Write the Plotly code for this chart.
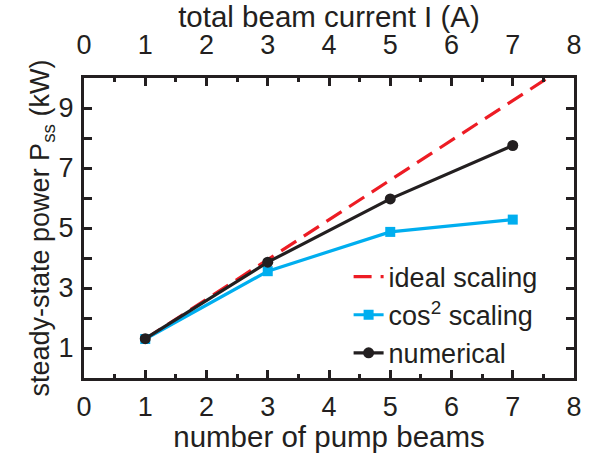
import plotly.graph_objects as go

# ---- data ----
pump_beams = [1, 3, 5, 7]
ideal_x = [1, 3, 5, 7, 8]
ideal_y = [1.3, 3.95, 6.6, 9.25, 10.57]
cos2_y = [1.3, 3.56, 4.87, 5.28]
numerical_y = [1.31, 3.86, 5.97, 7.75]

x_major = [0, 1, 2, 3, 4, 5, 6, 7, 8]
x_minor = [0.5, 1.5, 2.5, 3.5, 4.5, 5.5, 6.5, 7.5]
y_major = [1, 3, 5, 7, 9]
y_minor = [2, 4, 6, 8]

RED = "#ED1C24"
BLUE = "#00AEEF"
BLACK = "#231F20"
FONT = "Liberation Sans, Arial, sans-serif"

fig = go.Figure()
fig.add_trace(go.Scatter(x=ideal_x, y=ideal_y, mode="lines", name="ideal scaling",
                         line=dict(color=RED, width=3.2, dash="18px,9px")))
fig.add_trace(go.Scatter(x=pump_beams, y=cos2_y, mode="lines+markers",
                         name="cos<sup>2</sup> scaling",
                         line=dict(color=BLUE, width=3.2),
                         marker=dict(symbol="square", size=10, color=BLUE)))
fig.add_trace(go.Scatter(x=pump_beams, y=numerical_y, mode="lines+markers",
                         name="numerical",
                         line=dict(color=BLACK, width=3.2),
                         marker=dict(symbol="circle", size=11, color=BLACK)))
# invisible trace to activate the top axis
fig.add_trace(go.Scatter(x=pump_beams, y=numerical_y, xaxis="x2", mode="lines",
                         line=dict(width=0), opacity=0, showlegend=False,
                         hoverinfo="skip"))

axis_common = dict(
    showgrid=False, zeroline=False, showline=True, linecolor=BLACK, linewidth=3,
    ticks="inside", ticklen=8, tickwidth=2.5, tickcolor=BLACK,
    tickfont=dict(family=FONT, size=27, color="#231F20"),
)
minor_common = dict(tickmode="array", ticks="inside", ticklen=4, tickwidth=2.5,
                    tickcolor=BLACK)

fig.update_layout(
    width=590, height=453,
    margin=dict(l=84, r=8, t=76, b=71),
    plot_bgcolor="white", paper_bgcolor="white",
    font=dict(family=FONT, size=27, color="#231F20"),
    xaxis=dict(range=[0, 8], tickmode="array", tickvals=x_major,
               minor=dict(tickvals=x_minor, **minor_common),
               title=dict(text="number of pump beams",
                          font=dict(family=FONT, size=29.5), standoff=2),
               ticklabelstandoff=3,
               **axis_common),
    xaxis2=dict(range=[0, 8], overlaying="x", side="top", tickmode="array",
                tickvals=x_major,
                minor=dict(tickvals=x_minor, **minor_common),
                title=dict(text="total beam current I (A)",
                           font=dict(family=FONT, size=29.5), standoff=2),
                ticklabelstandoff=10,
                **axis_common),
    yaxis=dict(range=[0, 10], tickmode="array", tickvals=y_major,
               mirror="allticks",
               minor=dict(tickvals=y_minor, **minor_common),
               title=dict(text="steady-state power P<sub>ss</sub> (kW)",
                          font=dict(family=FONT, size=27), standoff=0),
               ticklabelstandoff=2,
               **axis_common),
    legend=dict(x=0.54, y=0.418, xanchor="left", yanchor="top",
                bgcolor="rgba(0,0,0,0)", font=dict(family=FONT, size=27),
                tracegroupgap=0, itemwidth=30),
    showlegend=True,
)

fig.write_html("out.html")
